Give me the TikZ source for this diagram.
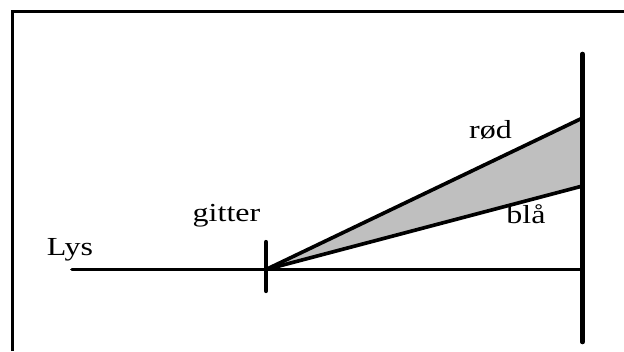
\documentclass[tikz,border=0pt]{standalone}
\usepackage{fontspec}
\setmainfont{Liberation Serif}
\usepackage{tikz}
\usetikzlibrary{positioning}

\tikzset{
  label text/.style={anchor=base, font=\fontsize{18.5}{20}\selectfont, xscale=1.23, inner sep=0pt},
  beam/.style={line width=2.6pt, line cap=round},
}

\begin{document}
\begin{tikzpicture}
    \useasboundingbox (0,0) rectangle (15.6,8.775);

    % Frame
    \draw[line width=2pt] (0.3125,0) -- (0.3125,8.4875) -- (15.6,8.4875);

    % Spectrum between the two rays
    \fill[black!25] (6.65,2.0375) -- (14.5625,5.825) -- (14.5625,4.125) -- cycle;

    % Incoming light and the rays
    \draw[beam] (1.8,2.0375) -- (14.5625,2.0375);
    \draw[beam] (6.65,2.0375) -- (14.5625,5.825);
    \draw[beam] (6.65,2.0375) -- (14.5625,4.125);

    % Grating and screen
    \draw[line width=3pt, line cap=round] (6.65,1.5) -- (6.65,2.725);
    \draw[line width=3.2pt, line cap=round] (14.5625,0.225) -- (14.5625,7.425);

    % Labels
    \node[label text] (lys) at (1.75,2.4) {Lys};
    \node[label text] (gitter) at (5.6625,3.225) {gitter};
    \node[label text] (rod) at (12.2625,5.3) {rød};
    \node[label text] (bla) at (13.15,3.2) {blå};
\end{tikzpicture}
\end{document}
